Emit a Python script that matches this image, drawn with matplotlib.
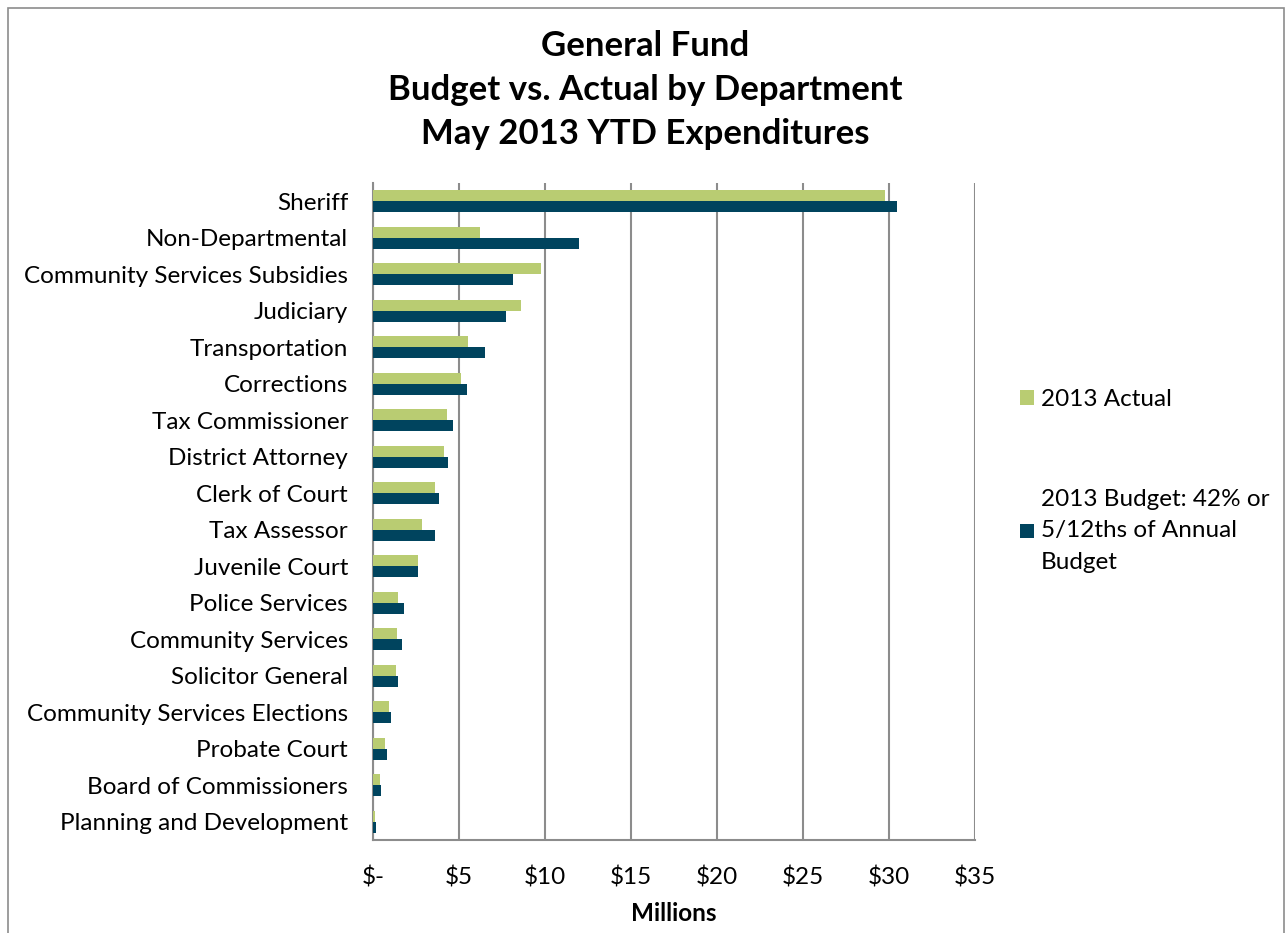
import numpy as np
import matplotlib.pyplot as plt
from matplotlib.patches import Rectangle

plt.rcParams['font.family'] = ['Lato', 'DejaVu Sans']

departments = ['Sheriff', 'Non-Departmental', 'Community Services Subsidies', 'Judiciary',
               'Transportation', 'Corrections', 'Tax Commissioner', 'District Attorney',
               'Clerk of Court', 'Tax Assessor', 'Juvenile Court', 'Police Services',
               'Community Services', 'Solicitor General', 'Community Services Elections',
               'Probate Court', 'Board of Commissioners', 'Planning and Development']
# millions of dollars
actual_2013 = [29.75, 6.21, 9.74, 8.58, 5.53, 5.09, 4.30, 4.14, 3.62, 2.86,
               2.59, 1.48, 1.38, 1.32, 0.93, 0.72, 0.41, 0.10]
budget_2013 = [30.47, 11.97, 8.16, 7.71, 6.54, 5.48, 4.67, 4.36, 3.81, 3.60,
               2.59, 1.79, 1.67, 1.48, 1.07, 0.82, 0.45, 0.18]
xticks = [0, 5, 10, 15, 20, 25, 30, 35]
xtick_labels = ['$-', '$5', '$10', '$15', '$20', '$25', '$30', '$35']

green = '#B9CC72'
navy = '#00445E'
grid_gray = '#8C8C8C'
fs = 17.5

fig = plt.figure(figsize=(12.86, 9.33), dpi=100)
ax = fig.add_axes([373/1286, 1 - 840/933, (975-373)/1286, (840-183)/933])

y = np.arange(len(departments))
h = 0.3
ax.barh(y - h/2, actual_2013, height=h, color=green, label='2013 Actual', zorder=3)
ax.barh(y + h/2, budget_2013, height=h, color=navy,
        label='2013 Budget: 42% or\n5/12ths of Annual\nBudget', zorder=3)

ax.set_ylim(len(departments) - 0.5, -0.5)
ax.set_yticks(y)
ax.set_yticklabels(departments, fontsize=fs)
ax.set_xlim(0, 35)
ax.set_xticks(xticks)
ax.set_xticklabels(xtick_labels, fontsize=fs)
ax.tick_params(axis='both', length=0)
ax.tick_params(axis='x', pad=19)
ax.tick_params(axis='y', pad=18)
ax.xaxis.grid(True, color=grid_gray, linewidth=1.5, zorder=0)
ax.set_axisbelow(True)
for s in ['top', 'right']:
    ax.spines[s].set_visible(False)
for s in ['left', 'bottom']:
    ax.spines[s].set_color(grid_gray)
    ax.spines[s].set_linewidth(1.5)
ax.set_xlabel('Millions', fontsize=fs, fontweight='bold', labelpad=10)

fig.text(645/1286, 1 - 90/933,
         'General Fund\nBudget vs. Actual by Department\nMay 2013 YTD Expenditures',
         ha='center', va='center', fontsize=25, fontweight='bold', linespacing=1.45)

leg = fig.legend(loc='center left', bbox_to_anchor=(1008/1286, 1 - 481/933),
                 frameon=False, fontsize=fs, handlelength=0.55, handleheight=0.55,
                 handletextpad=0.3, labelspacing=3.25, borderpad=0)
for t in leg.get_texts():
    t.set_linespacing(1.6)

fig.patches.append(Rectangle((8/1286, -0.05), 1276/1286, 1 - 8/933 + 0.05,
                             transform=fig.transFigure, fill=False,
                             edgecolor='#8C8C8C', linewidth=1.2))

fig.savefig('out.png', dpi=100)
